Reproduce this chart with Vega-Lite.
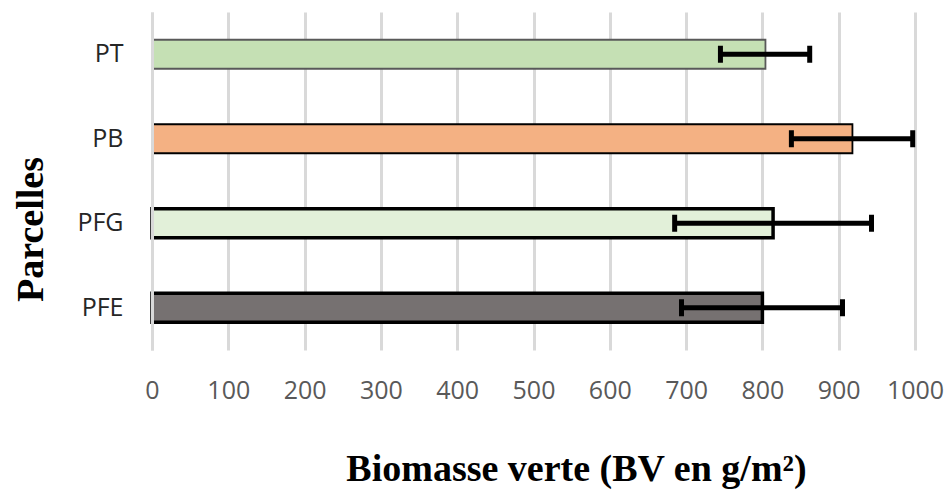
{
  "$schema": "https://vega.github.io/schema/vega-lite/v6.json",
  "width": 763,
  "height": 338,
  "autosize": {"type": "none"},
  "padding": {"left": 152, "top": 12, "right": 34, "bottom": 140},
  "background": "white",
  "config": {"view": {"stroke": null}},
  "data": {
    "values": [
      {"parcelle": "PT", "bv": 804, "lo": 745, "hi": 862},
      {"parcelle": "PB", "bv": 918, "lo": 838, "hi": 997},
      {"parcelle": "PFG", "bv": 814, "lo": 685, "hi": 943},
      {"parcelle": "PFE", "bv": 800, "lo": 694, "hi": 905}
    ]
  },
  "encoding": {
    "y": {
      "field": "parcelle",
      "type": "nominal",
      "sort": ["PT", "PB", "PFG", "PFE"],
      "scale": {"paddingInner": 0.657, "paddingOuter": 0.3285},
      "axis": {
        "zindex": 1,
        "title": "Parcelles",
        "titleFont": "Liberation Serif",
        "titleFontSize": 38,
        "titleFontWeight": "bold",
        "titleColor": "#000000",
        "titleAngle": -90,
        "titleX": -110,
        "titleY": 217,
        "titleAlign": "center",
        "titleBaseline": "alphabetic",
        "labelFont": "Open Sans",
        "labelFontSize": 25,
        "labelColor": "#262626",
        "labelPadding": 29,
        "ticks": false,
        "tickSize": 0,
        "grid": false,
        "domain": true,
        "domainColor": "#d9d9d9",
        "domainWidth": 3
      }
    }
  },
  "layer": [
    {
      "mark": {"type": "bar"},
      "encoding": {
        "x": {
          "field": "bv",
          "type": "quantitative",
          "scale": {"domain": [0, 1000], "nice": false},
          "axis": {
            "values": [0, 100, 200, 300, 400, 500, 600, 700, 800, 900, 1000],
            "format": "d",
            "title": "Biomasse verte (BV en g/m²)",
            "titleFont": "Liberation Serif",
            "titleFontSize": 38,
            "titleFontWeight": "bold",
            "titleColor": "#000000",
            "titleX": 424,
            "titleY": 130,
            "titleAlign": "center",
            "titleBaseline": "alphabetic",
            "labelFont": "Open Sans",
            "labelFontSize": 25,
            "labelColor": "#595959",
            "labelBaseline": "alphabetic",
            "labelPadding": 48,
            "labelFlush": false,
            "labelOverlap": false,
            "ticks": false,
            "tickSize": 0,
            "domain": false,
            "grid": true,
            "gridColor": "#d9d9d9",
            "gridWidth": 3
          }
        },
        "fill": {
          "field": "parcelle",
          "type": "nominal",
          "scale": {"domain": ["PT", "PB", "PFG", "PFE"], "range": ["#C5E0B4", "#F4B183", "#E2F0D9", "#767171"]},
          "legend": null
        },
        "stroke": {
          "field": "parcelle",
          "type": "nominal",
          "scale": {"domain": ["PT", "PB", "PFG", "PFE"], "range": ["#595959", "#000000", "#000000", "#000000"]},
          "legend": null
        },
        "strokeWidth": {
          "condition": {"test": "datum.parcelle === 'PFG' || datum.parcelle === 'PFE'", "value": 3.5},
          "value": 1.8
        },
        "fillOpacity": {"value": 1}
      }
    },
    {
      "mark": {"type": "rule", "color": "#000000", "strokeWidth": 5},
      "encoding": {
        "x": {"field": "lo", "type": "quantitative"},
        "x2": {"field": "hi"}
      }
    },
    {
      "mark": {"type": "tick", "color": "#000000", "thickness": 5, "size": 17, "opacity": 1},
      "encoding": {
        "x": {"field": "lo", "type": "quantitative"}
      }
    },
    {
      "mark": {"type": "tick", "color": "#000000", "thickness": 5, "size": 17, "opacity": 1},
      "encoding": {
        "x": {"field": "hi", "type": "quantitative"}
      }
    }
  ]
}
